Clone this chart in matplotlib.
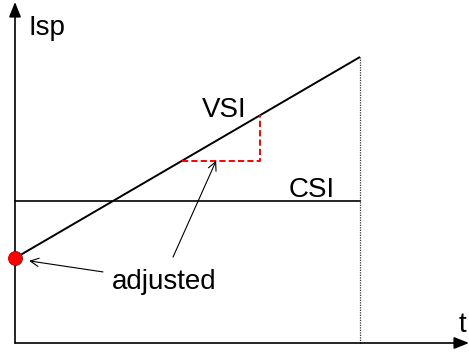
import matplotlib
matplotlib.use("Agg")
import matplotlib.pyplot as plt
import numpy as np

plt.rcParams['font.family'] = ['Liberation Sans', 'DejaVu Sans']

# ---- data ----
t_end = 10.0
vsi_start = 2.46
vsi_end = 8.29
csi_level = 4.12
t_vals = [0.0, t_end]
vsi_vals = [vsi_start, vsi_end]
csi_vals = [csi_level, csi_level]
tri_t = [4.84, 7.10]          # slope-triangle span on VSI line
adj_arrow_t = 5.83            # where the 'adjusted' arrow hits the triangle
labels = {"y": "Isp", "x": "t", "vsi": "VSI", "csi": "CSI", "adj": "adjusted"}

def vsi(t):
    return np.interp(t, t_vals, vsi_vals)

# ---- figure ----
W, H = 469, 356
fig = plt.figure(figsize=(W / 100, H / 100), dpi=100)
ax = fig.add_axes([0, 0, 1, 1])
ax.set_axis_off()
scale = 34.5  # px per unit
ox, oy = 15, 343
ax.set_xlim(-ox / scale, (W - ox) / scale)
ax.set_ylim(-(H - oy) / scale, oy / scale)

xmax = (W - ox) / scale
ymax = (oy - 2) / scale

# axes arrows
ax.annotate("", xy=(xmax, 0), xytext=(0, 0),
            arrowprops=dict(arrowstyle="-|>,head_length=0.9,head_width=0.36",
                            mutation_scale=10, lw=1.2, color="black",
                            shrinkA=0, shrinkB=0), annotation_clip=False)
ax.annotate("", xy=(0, ymax), xytext=(0, 0),
            arrowprops=dict(arrowstyle="-|>,head_length=0.9,head_width=0.36",
                            mutation_scale=10, lw=1.2, color="black",
                            shrinkA=0, shrinkB=0), annotation_clip=False)

# VSI and CSI lines
ax.plot(t_vals, vsi_vals, color="black", lw=1.4, solid_capstyle="butt")
ax.plot(t_vals, csi_vals, color="black", lw=1.2)
# end-of-time vertical dotted line
ax.plot([t_end, t_end], [0, vsi_end], color="#333333", lw=0.9, linestyle=(0, (1, 1)))

# red dashed slope triangle
y1 = float(vsi(tri_t[0]))
y2 = float(vsi(tri_t[1]))
ax.plot([tri_t[0], tri_t[1], tri_t[1]], [y1, y1, y2], color="red", lw=1.4,
        linestyle=(0, (3.2, 1.6)))

# red dot at start
ax.plot([0], [vsi_start], marker="o", markersize=10, markerfacecolor="red",
        markeredgecolor="#aa0000", markeredgewidth=0.6, clip_on=False, zorder=5)

# text labels
fs = 20
ax.text(0.38, 8.93, labels["y"], fontsize=fs, ha="left", va="baseline")
ax.text(12.87, 0.32, labels["x"], fontsize=fs, ha="left", va="baseline")
ax.text(5.42, 6.55, labels["vsi"], fontsize=fs, ha="left", va="baseline")
ax.text(7.94, 4.23, labels["csi"], fontsize=fs, ha="left", va="baseline")
ax.text(2.81, 1.57, labels["adj"], fontsize=fs, ha="left", va="baseline")

# annotation arrows
arrow_kw = dict(arrowstyle="->,head_length=0.6,head_width=0.3", mutation_scale=10,
                lw=0.8, color="black", shrinkA=0, shrinkB=0)
ax.annotate("", xy=(0.41, 2.38), xytext=(2.55, 2.06), arrowprops=arrow_kw)
ax.annotate("", xy=(adj_arrow_t, y1), xytext=(4.58, 2.49), arrowprops=arrow_kw)

fig.savefig("out.png", dpi=100)
